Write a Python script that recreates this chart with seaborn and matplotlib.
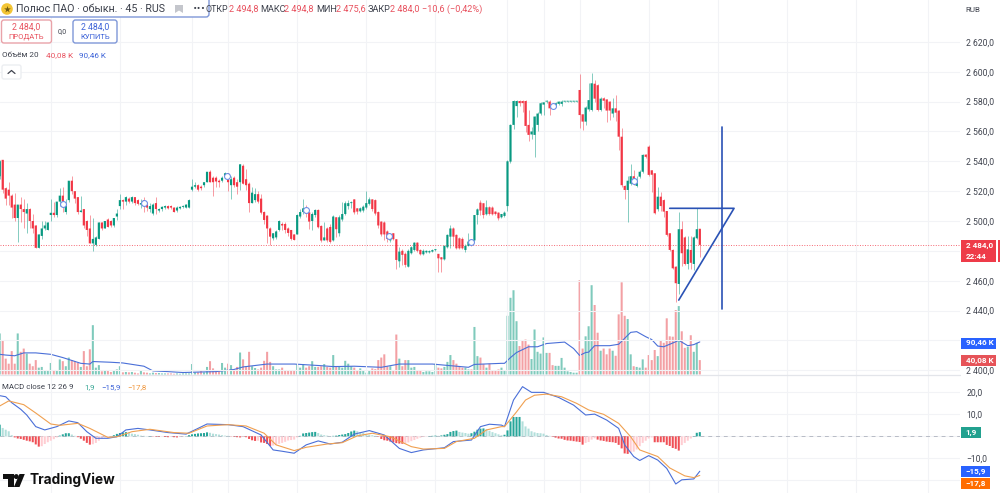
import numpy as np
import pandas as pd
import matplotlib
matplotlib.use("Agg")
import matplotlib.pyplot as plt
from matplotlib.patches import FancyBboxPatch, Rectangle, Polygon, Circle
import seaborn as sns

opens = [
2530,2541,2522,2521,2517,2511,2502,2511,2508,2505,
2508,2500,2497,2482,2490,2495,2494,2504,2505.5,2504,
2513,2517,2506,2514,2527,2520,2516,2506,2508,2500,
2495,2485,2484,2488,2499,2495,2501,2500,2497,2503,
2510,2514,2513,2515,2513,2516,2514,2511,2514,2511,
2508,2505,2512,2507,2508,2509,2510,2510,2509,2507,
2508.5,2509.5,2509,2509,2521,2523,2524,2523,2524,2526,
2533,2529,2529,2527,2527,2530,2532,2524,2529,2526,
2526,2537,2528,2525,2512,2514,2518,2515,2506,2503.6,
2495,2488.4,2489,2494,2498,2498,2495,2494,2491,2491,
2503,2506,2508,2505.8,2500,2504,2507.4,2496.7,2487,2495,
2496,2487,2502.5,2491.8,2501,2504.7,2510,2512,2514.5,2508.5,
2506.5,2507,2509,2511.5,2514.5,2514,2506,2499.6,2499,2493,
2487,2491.8,2487.8,2473,2480,2478,2469.4,2478.4,2480.6,2485.5,
2480.6,2477.7,2479,2479,2479.5,2480.5,2478,2475.7,2474.3,2482.4,
2489.5,2495,2490.7,2488.4,2488,2480.6,2483.3,2486,2487,2504,
2512.3,2511.9,2504.5,2509.2,2509,2506.3,2505.6,2502.5,2503.4,2510,
2539.8,2564.4,2577,2580.4,2580.4,2580.4,2564.4,2558,2557.7,2564.4,
2572,2578,2580,2580,2577,2577,2578.5,2578.5,2580,2580,
2580,2580,2580,2587.8,2571.5,2566.6,2574.8,2574.4,2592,2591,
2574.4,2582.2,2581.5,2580,2572,2575.5,2574,2556.5,2523.5,2520.8,
2525,2530,2523.5,2529.7,2533,2544.5,2549.8,2534,2532,2507.9,
2516.3,2514,2506.7,2491.8,2480.6,2469.4,2457.8,2494.5,2489,2471.2,
2480.6,2471.2,2488.4,2494.8]
highs = [
2541,2541,2523,2526,2518,2519,2511,2516,2515,2512,
2509,2505,2497,2491,2500,2500,2499,2515,2513,2513,
2522,2523,2515,2527,2530,2520,2516,2517,2508,2501,
2504,2502,2490,2499,2499,2500,2502,2501,2502,2508,
2518,2515,2517,2516,2517,2516,2515,2515,2516,2513,
2512,2512,2516,2509,2510,2511,2511,2511,2509.5,2510,
2510,2510.5,2511.5,2515,2528,2526,2525,2524,2526,2533,
2534,2530,2530,2528,2530,2533,2532,2530,2530,2528,
2538,2538,2535,2526,2523,2522,2520,2518,2507,2504,
2496,2492,2494,2501,2499,2499,2496,2494,2491,2505,
2508,2514.5,2511,2506,2506,2508,2508,2497,2499.6,2496,
2498,2504,2503,2504,2513,2513.7,2514,2513.5,2515,2509,
2509.5,2511,2520.3,2516,2515,2515,2507,2500,2500,2494,
2490,2492,2488,2482.8,2481,2479,2481,2483,2486,2486,
2481,2481,2480.5,2480.5,2481,2481.5,2478,2476,2484,2491,
2497,2496,2491,2489,2489,2484.5,2491.8,2487,2504,2509,
2514,2512,2514,2510,2510,2507,2506,2505,2507,2541,
2565,2581,2581,2581,2581,2581,2574.4,2563,2570.5,2573,
2580,2580,2581,2581,2578,2579.5,2580.5,2581,2580.4,2580.4,
2580.4,2580.4,2580.4,2598.4,2572,2577,2592.7,2599.4,2594.5,2592,
2583,2583,2582,2580.5,2582.2,2584.5,2574.5,2562,2524,2530,
2538,2534,2530,2534,2545,2545,2551,2534.5,2532.5,2523,
2519.7,2514.5,2507,2492,2481,2470,2506.3,2500,2490,2490,
2490,2490,2508.5,2494.8]
lows = [
2528,2519,2511,2511,2502,2500,2486,2499,2495,2492,
2495,2492,2482,2482,2488,2494,2494,2500,2503,2503,
2510,2506,2505,2513,2518,2512,2505,2506,2495,2490,
2485,2480,2483,2488,2494,2495,2496,2496,2496,2501,
2508,2508,2511,2512,2512,2511,2511,2509,2506,2507,
2506,2504,2505,2506,2507,2508,2508,2508,2506,2506,
2508,2509,2509,2509,2520,2522,2520,2521,2523,2526,
2526,2517,2523,2523,2526,2529,2520,2515,2523,2518,
2521,2525,2521,2506,2512,2513,2512,2505,2498,2485,
2484,2487,2488,2493,2494,2492,2490,2487,2487,2491,
2502,2505,2503,2494.5,2494,2503,2495,2486,2487,2486,
2485,2486.9,2489,2490,2500,2504,2508,2509,2505,2505,
2506,2506,2508,2511,2507,2504,2495,2490,2487,2486,
2486,2487,2468,2469.4,2470.6,2469,2469,2478,2480,2479,
2477,2477,2478.5,2478.5,2479,2480,2466,2466,2474,2482,
2482,2483,2481,2481,2481,2479,2483,2483,2486,2498,
2504,2502,2504,2504,2504,2504,2501,2502,2503,2507,
2539,2561.4,2570,2577,2573,2559.7,2553.6,2555,2543,2560,
2571,2571,2579,2571,2575,2576.5,2578,2577,2579.8,2579.8,
2579.8,2579.8,2579.8,2562,2561,2564.4,2574,2573.5,2580,2574,
2573.5,2576,2566.6,2568,2570,2567,2547.6,2523,2515,2499.6,
2524,2524,2523,2529,2532,2542,2530,2519.7,2505,2507,
2507,2503,2490,2480,2468,2446,2451.3,2470,2470.5,2468,
2468,2467,2488,2475.6]
closes = [
2540,2521,2515,2517,2509,2502,2511,2508,2506,2508,
2500,2495,2482,2491,2495,2497,2499,2505.5,2504,2513,
2517,2513,2510,2527,2520,2515,2506,2507,2497,2494,
2485,2488,2489,2499,2495,2500,2496,2497,2502,2505,
2514,2513,2516,2513,2516,2512,2511.5,2512,2510,2509,
2510,2511,2508,2508,2509.5,2510,2508.5,2509,2506,2509,
2509.5,2510,2511,2514,2523,2524,2521,2522,2526,2533,
2526,2526,2526.5,2526,2529,2532,2526,2528,2524,2523,
2538,2525,2524,2512,2519,2518,2513,2505.6,2500.7,2495,
2489.5,2491.8,2493,2500,2497,2494,2492,2488,2487.3,2504,
2506,2508.5,2505,2499.6,2504.7,2507.4,2495.8,2486.9,2489,2487,
2486,2503,2494.5,2502.5,2504.7,2511.9,2512,2512.5,2505.8,2506.3,
2508.5,2509.6,2512,2514.5,2508,2505,2497,2491,2491,2488,
2489,2487.8,2473.9,2479.5,2477.3,2470.6,2480,2482.4,2485.5,2480,
2477.7,2480,2480,2479.8,2480.5,2480.9,2475,2474.3,2483.3,2490.7,
2495,2489.5,2481.7,2481.7,2481.7,2483.3,2486.2,2484,2504,2507.8,
2507,2504,2509.2,2504.7,2504.5,2504.7,2501.8,2504.7,2505.6,2540,
2564.4,2580.4,2580.4,2579,2579,2563.7,2557.7,2560,2570,2572,
2578.9,2579.5,2580.4,2575.5,2576,2578.9,2580,2580,2580.2,2580.2,
2580.2,2580.2,2580.2,2571,2566.6,2576,2581,2592.3,2582,2574.4,
2582,2580.6,2574,2574,2575.5,2572.6,2556.5,2524,2520.8,2527,
2530,2526,2525.3,2533,2544.3,2543,2530.9,2531,2505.2,2516.3,
2510,2506.3,2490.7,2480.6,2468.3,2458.3,2494.5,2478.4,2471.2,2481,
2472,2489,2494.5,2484]
volumes = [
114,95,44,30,65,30,114,63,72,58,
30,23,40,19,21,12,10,32,12,12,
42,37,23,47,40,37,32,21,65,23,
70,137,19,26,9,12,12,7,12,14,
23,6,7,6,7,5,3,10,6,5,
3,5,4,4,3,3,3,3,2,3,
2,3,3,3,29,6,6,10,6,21,
37,17,10,10,32,19,30,26,14,21,
61,42,23,63,23,18,14,19,38,63,
35,23,14,14,19,10,10,10,10,29,
19,29,19,23,37,21,21,23,29,21,
19,54,23,21,19,38,30,23,19,12,
17,10,5,10,17,15,40,47,56,23,
23,12,111,44,23,40,40,19,21,12,
10,7,9,9,7,30,19,17,21,35,
54,40,30,23,19,19,14,14,132,51,
47,29,19,30,12,12,14,19,12,163,
213,234,148,79,94,97,83,43,125,63,
58,103,60,60,26,24,24,46,19,9,
7,5,5,262,72,106,134,248,193,116,
66,72,56,72,66,52,167,256,163,154,
56,23,21,19,42,19,54,40,68,51,
93,88,156,106,105,179,190,120,74,77,
109,63,88,40]
vol_ma_idx = [0,2,5,8,12,17,21,27,30,31,37,41,48,51,56,61,67,72,78,81,89,98,106,111,118,127,133,144,156,158,167,
              168,170,172,176,179,182,188,191,193,195,196,198,203,206,210,212,215,217,219,221,225,226,229,231,233]
vol_ma = [56,54,52,60,60,56,47,31,29,36,34,32,23,10,8,5.5,7,8,14,21,29,29,25,22,23,20,29,29,20,28,31,
          31,47,61,77,77,86,90,72,53,61,62,80,80,84,117,119,105,97,79,77,91,95,80,83,90.46]
hist = [
5.3,3.8,3,2.3,.5,-.5,-1,-1.2,-1.6,-2,
-2.3,-2.7,-3.7,-4.7,-4.5,-3.5,-2.7,-2,-1.3,-.5,
.3,.9,1.4,1.4,.8,.2,-.4,-1.1,-2,-3,
-3.8,-3.6,-3,-2,-1,-.5,-.3,-.1,.5,1.1,
1.5,1.8,1.9,1.7,1.2,1,.7,.3,.2,.1,
.1,-.1,-.2,-.2,-.1,-.3,-.4,-.2,-.4,-.5,
-.2,-.1,.1,.5,.9,1.1,1.3,1.4,1.5,1.8,
1.6,1.2,1,.8,.5,.3,.2,-.1,-.2,-.4,
-.5,-.3,-.4,-1.2,-1.8,-2.1,-2,-2.8,-3,-3.5,
-4.4,-4.2,-3.9,-3.4,-3,-2.5,-1.9,-1.7,-1.5,-.5,
.2,1.3,1.5,1.7,1.9,2,1.5,.8,.5,.3,
.1,.2,.3,.6,.8,1,1.5,2.2,2.6,2.3,
1.8,1.6,.9,.7,.5,.2,-.2,-1.2,-1.8,-2,
-2.4,-2.8,-3.1,-3.3,-3.4,-3.2,-2.8,-2.2,-1.7,-1.1,
-.6,-.3,-.1,.1,.2,.3,.2,.4,.7,1,
2,2.4,2.6,2,1.7,1.5,1.2,1.4,2.1,3,
3.5,3.6,3.2,2.5,1.9,1.4,.9,.5,.7,2.7,
6.8,8.8,8.8,8.8,6.8,4.5,3.5,2.3,1.8,1.5,
1.4,1.2,.6,.2,-.2,-.6,-1,-1.1,-1.6,-1.9,
-2,-2.2,-2.4,-2.6,-3.8,-3,-2.6,-1.5,-.9,-1.5,
-1.9,-2.1,-2.4,-2.6,-2.7,-3,-3.9,-5.5,-7.8,-8,
-7.5,-7,-6,-4.5,-3,-2,-1,-.5,-2.7,-2.7,
-2.7,-2.7,-3.9,-4.4,-5.3,-5.7,-6.5,-4,-3,-2,
-1,.1,1.6,1.9]
macd_idx = [0,2,4,7,9,12,15,19,23,26,29,32,36,39,42,46,50,56,62,66,69,76,81,87,91,94,98,102,106,110,114,118,123,128,133,137,141,148,151,157,160,163,167,
            168,171,174,177,181,186,191,195,198,202,206,208,211,213,216,219,222,225,227,231,233]
macd_line = [18.5,18,15.3,12.3,9.7,4.4,2.9,4.4,7,6.2,2.1,-.9,-.9,-.2,2.9,3.6,2.9,1.7,1,3.6,5.6,5.3,4.4,.6,-6.2,-6.8,-7.7,-3.9,-2.1,-3.5,-2.7,1,2.6,.6,-5.5,-7.4,-6.2,-5.2,-2.4,-1.7,4.4,5.5,5.1,
             4.4,16.5,22.6,20,20,17.7,14.2,9.7,10.1,7.4,3.6,-3.9,-9.2,-11,-8.8,-10.8,-14.6,-21.7,-19.8,-19.4,-15.9]
signal_idx = [0,3,8,12,17,20,26,30,36,39,44,50,58,63,69,76,82,88,92,98,102,109,114,119,124,130,137,141,148,152,158,162,167,
              168,172,175,178,182,187,192,196,201,206,210,213,219,223,228,231,233]
signal_line = [13.8,16.1,14.4,10.6,5.6,5,5.9,3.6,-.5,-.2,2.1,3.2,1.7,1.4,4.7,5.3,4.7,1.4,-3.9,-6.5,-5,-3.5,-2.9,.2,1.4,-.2,-4.7,-5.8,-5.5,-2.4,-.9,2.9,4.4,
               4.4,11.1,16.5,18.7,19.2,18,15,12,10,5.9,-.2,-6.2,-9.2,-14.4,-18,-18.8,-17.8]
signal_mark_idx = [21,48,75.5,102,129.5,157,184,211]
signal_mark_price = [2511.4,2512,2530.4,2507.4,2490,2486,2577,2526.8]
pattern_x = [223,244.4,226]
pattern_y = [2508.5,2508.5,2447]
target_x = [240.3,240.3]
target_y = [2562.8,2440.8]
price_ticks = [2620,2600,2580,2560,2540,2520,2500,2480,2460,2440,2420,2400]
hidden_price_ticks = [2480,2420]
macd_ticks = [20,10,0,-10,-20]
macd_labels = ["20,0","10,0","","−10,0",""]
grid_bars = [17,40,64,76,99,122,145,169,181,193,216,239,262,285,309]
last_price = 2484.0

GREEN, RED = "#089981", "#f23645"
BLUE, ORANGE = "#4a6fd8", "#f0a050"
W, H = 1000, 493

sns.set_theme(style="white")
plt.rcParams["font.family"] = ["Roboto", "DejaVu Sans"]
plt.rcParams["axes.unicode_minus"] = False

df = pd.DataFrame({"o": opens, "h": highs, "l": lows, "c": closes, "v": volumes, "m": hist})
df["i"] = np.arange(len(df))
up = df.c >= df.o

fig = plt.figure(figsize=(W / 100, H / 100), dpi=100, facecolor="white")
def rect(x0, y0, x1, y1):
    return [x0 / W, 1 - y1 / H, (x1 - x0) / W, (y1 - y0) / H]

def soft(container):
    for patch in container:
        patch.set_snap(False)

xlim = (0.1, 319.6)
ax = fig.add_axes(rect(0, 0, 960, 375))
axv = fig.add_axes(rect(0, 0, 960, 375), sharex=ax)
axm = fig.add_axes(rect(0, 375, 960, 493), sharex=ax)

axv.set_zorder(1); ax.set_zorder(2); ax.patch.set_alpha(0)
soft(axv.bar(df.i, df.v, width=0.68, color=np.where(up, "#7fcabc", "#f3a0a4"), linewidth=0))
sns.lineplot(x=vol_ma_idx, y=vol_ma, ax=axv, color=BLUE, lw=0.8, errorbar=None)
axv.set_ylim(-1.4, 1040)
axv.set_yticks([])

for mask, col in ((up, GREEN), (~up, RED)):
    d = df[mask]
    ax.vlines(d.i, d.l, d.h, color=col, lw=0.7, alpha=0.5, zorder=3)
    soft(ax.bar(d.i, (d.c - d.o).abs().clip(lower=0.6), bottom=d[["o", "c"]].min(axis=1),
                width=0.72, color=col, linewidth=0, zorder=4))
sns.scatterplot(x=signal_mark_idx, y=signal_mark_price, ax=ax, s=18, color="white",
                edgecolor="#6f8fe6", linewidth=0.8, zorder=6)
ax.axhline(last_price, color=RED, lw=0.7, ls=(0, (1, 1.6)), alpha=0.75, zorder=2)
sns.lineplot(x=pattern_x, y=pattern_y, ax=ax, color="#2a52b5", lw=1.2,
             sort=False, errorbar=None, zorder=7)
sns.lineplot(x=target_x, y=target_y, ax=ax, color="#2a52b5", lw=1.2, sort=False,
             errorbar=None, zorder=7, estimator=None)
ax.set_ylim(2396.8, 2648.1)
ax.set_yticks(price_ticks)
ax.set_yticklabels(["" if p in hidden_price_ticks else f"{p // 1000} {p % 1000:03d},0" for p in price_ticks])

bar_cols = []
for k, v in enumerate(hist):
    prev = hist[k - 1] if k else v
    if v >= 0:
        bar_cols.append("#26a69a" if v >= prev else "#b2dfdb")
    else:
        bar_cols.append("#f04f55" if v <= prev else "#ffcdd2")
soft(axm.bar(df.i, df.m, width=0.68, color=bar_cols, linewidth=0, zorder=3))
axm.axhline(0, color="#b8bcc6", lw=0.7, ls=(0, (4, 4)), zorder=1)
sns.lineplot(x=macd_idx, y=macd_line, ax=axm, color=BLUE, lw=0.8, errorbar=None, zorder=4)
sns.lineplot(x=signal_idx, y=signal_line, ax=axm, color=ORANGE, lw=0.8, errorbar=None, zorder=5)
axm.set_ylim(-25.8, 27.9)
axm.set_yticks(macd_ticks)
axm.set_yticklabels(macd_labels)

for a in (ax, axm):
    a.yaxis.tick_right()
    a.tick_params(axis="y", length=0, pad=4.4, labelsize=6.2, labelcolor="#3f434e")
    a.tick_params(axis="x", length=0, labelbottom=False)
    a.set_xticks(grid_bars)
    a.grid(True, color="#f2f3f6", lw=0.8, zorder=0)
    a.set_axisbelow(True)
    a.set_xlabel(""); a.set_ylabel("")
    for s in a.spines.values():
        s.set_visible(False)
axv.tick_params(axis="x", length=0, labelbottom=False)
axv.set_xlabel(""); axv.set_ylabel("")
axv.grid(False)
for s in axv.spines.values():
    s.set_visible(False)
ax.set_xlim(*xlim)

ui = fig.add_axes([0, 0, 1, 1], zorder=20)
ui.set_xlim(0, W); ui.set_ylim(H, 0); ui.axis("off"); ui.patch.set_alpha(0)

def T(x, y, s, size=6.1, color="#3f434e", ha="left", **kw):
    ui.text(x, y, s, fontsize=size, color=color, ha=ha, va="center", **kw)

def box(x0, y0, x1, y1, fc, ec, r=2.5, lw=1.0):
    ui.add_patch(FancyBboxPatch((x0 + r, y0 + r), x1 - x0 - 2 * r, y1 - y0 - 2 * r,
                                boxstyle=f"round,pad={r},rounding_size={r}", fc=fc, ec=ec, lw=lw))

ui.plot([0, 960], [375, 375], color="#e3e5ea", lw=0.9)

RD = "#e8525f"
T(205, 9.5, "ОТКР", 6.4)
for x, s, c in [(229, "2 494,8", RD), (260, "МАКС", "#3f434e"), (284, "2 494,8", RD),
                (316, "МИН", "#3f434e"), (336, "2 475,6", RD), (368, "ЗАКР", "#3f434e"),
                (390, "2 484,0", RD), (422, "−10,6 (−0,42%)", RD)]:
    T(x, 9.5, s, 6.6, c)
box(-4, -3, 209, 17, "white", "#7f97d8", r=3, lw=1.0)
ui.add_patch(Circle((7, 9), 5.8, fc="#f3c535", ec="none"))
ui.scatter([7], [9], marker="*", s=26, c="#6f5a10", linewidths=0)
T(16, 9.5, "Полюс ПАО · обыкн. · 45 · RUS", 7.7, "#3a3e49")
ui.add_patch(Polygon([(175, 5), (183, 5), (183, 13), (179, 10.5), (175, 13)], fc="#c4c6cc", ec="none"))
T(199, 9, "•••", 5.4, "#3a3e49", ha="center", family="DejaVu Sans")

box(1.5, 20, 51.5, 43, "white", "#e9a3a9")
T(26.5, 26.8, "2 484,0", 6.3, RD, ha="center")
T(26.5, 36.8, "ПРОДАТЬ", 5.5, RD, ha="center")
T(62, 31.5, "0,0", 5.0, ha="center")
box(73, 20, 117, 43, "white", "#7f97d8")
T(95, 26.8, "2 484,0", 6.3, "#3d63d8", ha="center")
T(95, 36.8, "КУПИТЬ", 5.5, "#3d63d8", ha="center")

T(2, 55, "Объём 20", 5.9)
T(46, 55, "40,08 K", 5.9, RD)
T(79, 55, "90,46 K", 5.9, "#3d63d8")
box(2, 65, 21, 79, "white", "#eceef1", r=2)
ui.plot([8, 11.5, 15], [73.5, 70.5, 73.5], color="#3f434e", lw=0.9)

T(965, 9.5, "RUB", 5.8)
T(2, 386.7, "MACD close 12 26 9", 5.7)
T(84, 386.7, "1,9", 5.7, "#3aa796")
T(101, 386.7, "−15,9", 5.7, "#3d63d8")
T(127, 386.7, "−17,8", 5.7, "#f0963c")

def tag(x0, y0, x1, y1, col, *lines):
    ui.add_patch(Rectangle((x0, y0), x1 - x0, y1 - y0, fc=col, ec="none"))
    n = len(lines)
    for k, s in enumerate(lines):
        T(x0 + 4.5, y0 + (y1 - y0) * (k + 0.5) / n, s, 5.9, "white", fontweight="bold")

tag(961, 240, 996, 262, "#ee3b49", "2 484,0", "22:44")
ui.add_patch(Rectangle((998, 240), 2, 22, fc="#ee3b49", ec="none"))
tag(961, 337.5, 996, 348.5, "#2962ff", "90,46 K")
tag(961, 355, 996, 366, "#e65358", "40,08 K")
tag(961, 427, 981, 438, "#22a18f", "1,9")
tag(961, 466, 990, 477, "#2962ff", "−15,9")
tag(961, 478, 990, 489, "#ff6d00", "−17,8")

ui.add_patch(Polygon([(3, 474), (13.5, 474), (13.5, 487), (8, 487), (8, 479), (3, 479)], fc="#111", ec="none"))
ui.add_patch(Circle((16.3, 476.6), 2.5, fc="#111", ec="none"))
ui.add_patch(Polygon([(19.5, 474), (24.8, 474), (19.5, 487), (13.9, 487)], fc="#111", ec="none"))
T(29, 480, "TradingView", 9.8, "#111", fontweight="bold", family="Inter")

fig.savefig("out.png", dpi=100)
